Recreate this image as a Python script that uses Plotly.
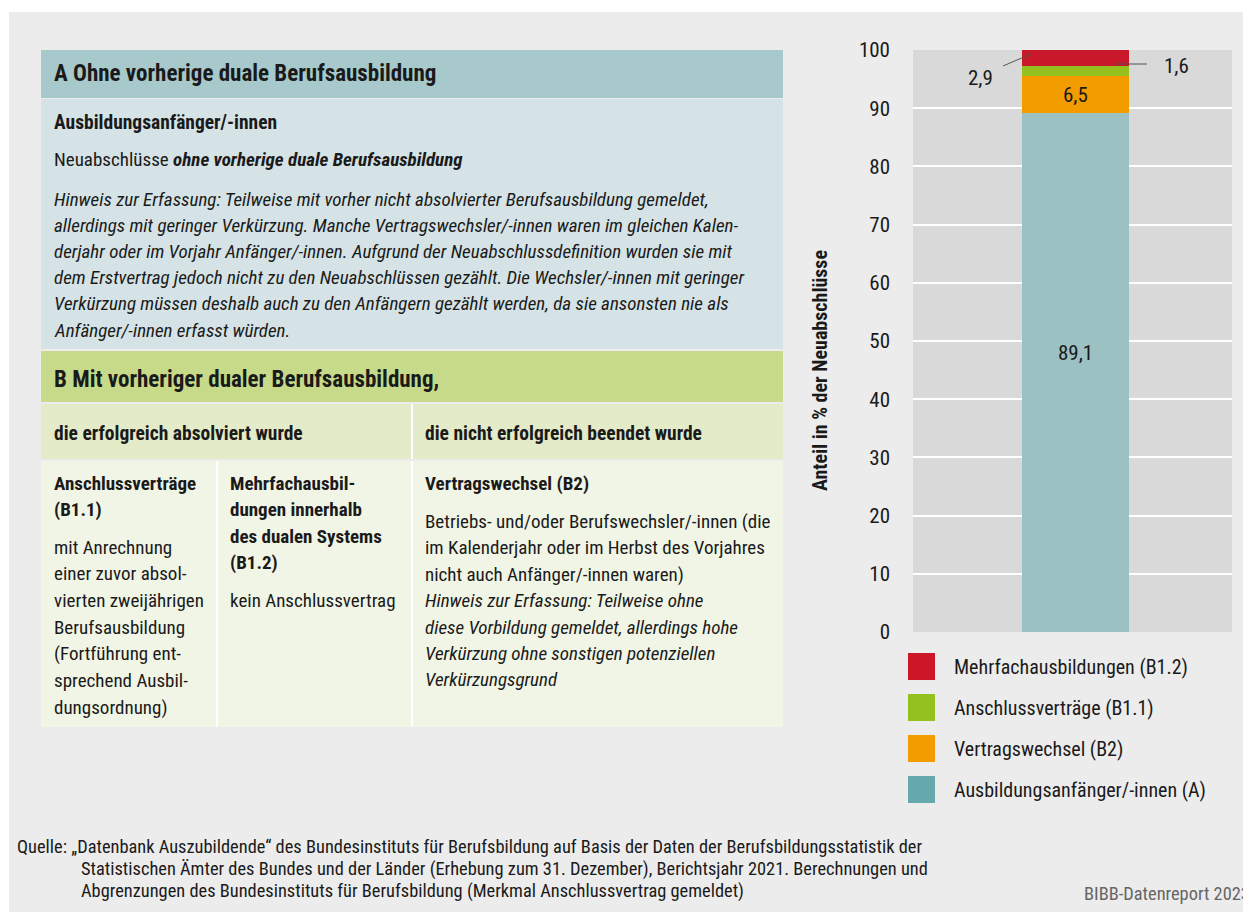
import plotly.graph_objects as go

# ---------------- data ----------------
categories = ["2021"]
series_names = [
    "Ausbildungsanfänger/-innen (A)",
    "Vertragswechsel (B2)",
    "Anschlussverträge (B1.1)",
    "Mehrfachausbildungen (B1.2)",
]
series_values = [89.1, 6.5, 1.6, 2.9]
bar_colors = ["#9bc1c3", "#f39c00", "#95c11f", "#c8182a"]
legend_colors = ["#66a9ad", "#f39c00", "#95c11f", "#cd1628"]
y_ticks = [0, 10, 20, 30, 40, 50, 60, 70, 80, 90, 100]
y_title = "Anteil in % der Neuabschlüsse"

FONT = "Liberation Sans Narrow, Arial Narrow, Roboto Condensed, sans-serif"
TXT = "#1a1a1a"

OFF = 8  # browser body margin
W, H = 1251 - OFF, 912 - OFF          # figure size
PL, PR, PT, PB = 913, 1232, 50, 632   # plot area in page (reference) pixels


def px(x):
    return (x - PL) / (PR - PL)


def py(y):
    return (PB - y) / (PB - PT)


fig = go.Figure()
for name, val, col in zip(series_names, series_values, bar_colors):
    fig.add_trace(go.Bar(x=categories, y=[val], name=name, marker_color=col,
                         marker_line_width=0, showlegend=False, hoverinfo="skip"))

shapes = []
annotations = []


def rect(x0, y0, x1, y1, color):
    shapes.append(dict(type="rect", xref="paper", yref="paper", x0=px(x0), x1=px(x1),
                       y0=py(y1), y1=py(y0), fillcolor=color, line=dict(width=0), layer="above"))


def vline(x, y0, y1, color="white", width=2):
    shapes.append(dict(type="line", xref="paper", yref="paper", x0=px(x), x1=px(x),
                       y0=py(y0), y1=py(y1), line=dict(color=color, width=width), layer="above"))


def seg(x0, y0, x1, y1, color="#555555", width=1):
    shapes.append(dict(type="line", xref="paper", yref="paper", x0=px(x0), x1=px(x1),
                       y0=py(y0), y1=py(y1), line=dict(color=color, width=width), layer="above"))


def ann(text, x, y, size=19, color=TXT, xanchor="left", angle=0):
    annotations.append(dict(xref="paper", yref="paper", x=px(x), y=py(y), text=text,
                            showarrow=False, xanchor=xanchor, yanchor="middle",
                            textangle=angle, align="left",
                            font=dict(family=FONT, size=size, color=color)))


# white strips at top / left of the page
rect(0, 0, 1251, 12, "white")
rect(0, 0, 9, 912, "white")

# ---------------- table ----------------
rect(41, 50, 783, 98, "#a7c9cb")
rect(41, 99, 783, 349, "#d5e3e6")
rect(41, 351, 783, 402, "#c7da89")
rect(41, 404, 783, 459, "#e3ebc8")
rect(41, 461, 783, 727, "#f1f5e5")
vline(412, 404, 459)
vline(217, 461, 727)
vline(412, 461, 727)

ann("<b>A Ohne vorherige duale Berufsausbildung</b>", 52, 74, size=23)
ann("<b>Ausbildungsanfänger/-innen</b>", 52, 122, size=19.5)
ann("Neuabschlüsse <b><i>ohne vorherige duale Berufsausbildung</i></b>", 52, 159)
hinweis_a = [
    "Hinweis zur Erfassung: Teilweise mit vorher nicht absolvierter Berufsausbildung gemeldet,",
    "allerdings mit geringer Verkürzung. Manche Vertragswechsler/-innen waren im gleichen Kalen-",
    "derjahr oder im Vorjahr Anfänger/-innen. Aufgrund der Neuabschlussdefinition wurden sie mit",
    "dem Erstvertrag jedoch nicht zu den Neuabschlüssen gezählt. Die Wechsler/-innen mit geringer",
    "Verkürzung müssen deshalb auch zu den Anfängern gezählt werden, da sie ansonsten nie als",
    "Anfänger/-innen erfasst würden.",
]
for i, line in enumerate(hinweis_a):
    ann("<i>" + line + "</i>", 52, 199 + i * 26.2)

ann("<b>B Mit vorheriger dualer Berufsausbildung,</b>", 52, 379, size=23)
ann("<b>die erfolgreich absolviert wurde</b>", 52, 433, size=19.5)
ann("<b>die nicht erfolgreich beendet wurde</b>", 423, 433, size=19.5)

col1 = [("<b>Anschlussverträge</b>", 483), ("<b>(B1.1)</b>", 509),
        ("mit Anrechnung", 547), ("einer zuvor absol-", 573), ("vierten zweijährigen", 600),
        ("Berufsausbildung", 627), ("(Fortführung ent-", 653), ("sprechend Ausbil-", 680),
        ("dungsordnung)", 707)]
for t, y in col1:
    ann(t, 52, y)
col2 = [("<b>Mehrfachausbil-</b>", 483), ("<b>dungen innerhalb</b>", 509),
        ("<b>des dualen Systems</b>", 536), ("<b>(B1.2)</b>", 562),
        ("kein Anschlussvertrag", 600)]
for t, y in col2:
    ann(t, 228, y)
col3 = [("<b>Vertragswechsel (B2)</b>", 483),
        ("Betriebs- und/oder Berufswechsler/-innen (die", 521),
        ("im Kalenderjahr oder im Herbst des Vorjahres", 547),
        ("nicht auch Anfänger/-innen waren)", 574),
        ("<i>Hinweis zur Erfassung: Teilweise ohne</i>", 600),
        ("<i>diese Vorbildung gemeldet, allerdings hohe</i>", 627),
        ("<i>Verkürzung ohne sonstigen potenziellen</i>", 653),
        ("<i>Verkürzungsgrund</i>", 679)]
for t, y in col3:
    ann(t, 423, y)

# ---------------- value labels ----------------
def fmt(v):
    return f"{v:.1f}".replace(".", ",")


annotations.append(dict(x=0, y=48, xref="x", yref="y", text=fmt(series_values[0]),
                        showarrow=False, yanchor="middle",
                        font=dict(family=FONT, size=21, color=TXT)))
annotations.append(dict(x=0, y=series_values[0] + series_values[1] / 2, xref="x", yref="y",
                        text=fmt(series_values[1]), showarrow=False, yanchor="middle",
                        font=dict(family=FONT, size=21, color=TXT)))
ann(fmt(series_values[3]), 980, 78, size=21, xanchor="center")
seg(1003, 66, 1031, 54)
ann(fmt(series_values[2]), 1176, 66, size=21, xanchor="center")
seg(1116, 64, 1147, 64)

# ---------------- legend (manual) ----------------
for i, k in enumerate([3, 2, 1, 0]):
    y0 = 653 + i * 41
    rect(908, y0, 935, y0 + 27, legend_colors[k])
    ann(series_names[k], 952, y0 + 13.5, size=20)

# ---------------- axis title ----------------
ann("<b>" + y_title + "</b>", 820, 371, size=20, xanchor="center", angle=-90)

# ---------------- source ----------------
ann("Quelle: „Datenbank Auszubildende“ des Bundesinstituts für Berufsbildung auf Basis der Daten der Berufsbildungsstatistik der",
    15, 846, size=18.4)
ann("Statistischen Ämter des Bundes und der Länder (Erhebung zum 31. Dezember), Berichtsjahr 2021. Berechnungen und",
    79, 869, size=18.4)
ann("Abgrenzungen des Bundesinstituts für Berufsbildung (Merkmal Anschlussvertrag gemeldet)", 79, 891, size=18.4)
ann("BIBB-Datenreport 2023", 1082, 893, size=18.4, color="#666666")

fig.update_layout(
    width=W, height=H,
    margin=dict(l=PL - OFF, r=W - (PR - OFF), t=PT - OFF, b=H - (PB - OFF), pad=0),
    paper_bgcolor="#ececec",
    plot_bgcolor="#d9d9d9",
    barmode="stack",
    bargap=0.665,
    separators=",.",
    showlegend=False,
    shapes=shapes,
    annotations=annotations,
    font=dict(family=FONT, color=TXT),
)
fig.update_xaxes(type="category", showticklabels=False, showgrid=False, zeroline=False,
                 range=[-0.509, 0.491], fixedrange=True)
fig.update_yaxes(range=[0, 100], tickvals=y_ticks, showgrid=True, gridcolor="white", gridwidth=2,
                 zeroline=False, showline=False, ticks="", ticklabelstandoff=22,
                 tickfont=dict(family=FONT, size=21, color=TXT), fixedrange=True)

fig.write_html("out.html")
